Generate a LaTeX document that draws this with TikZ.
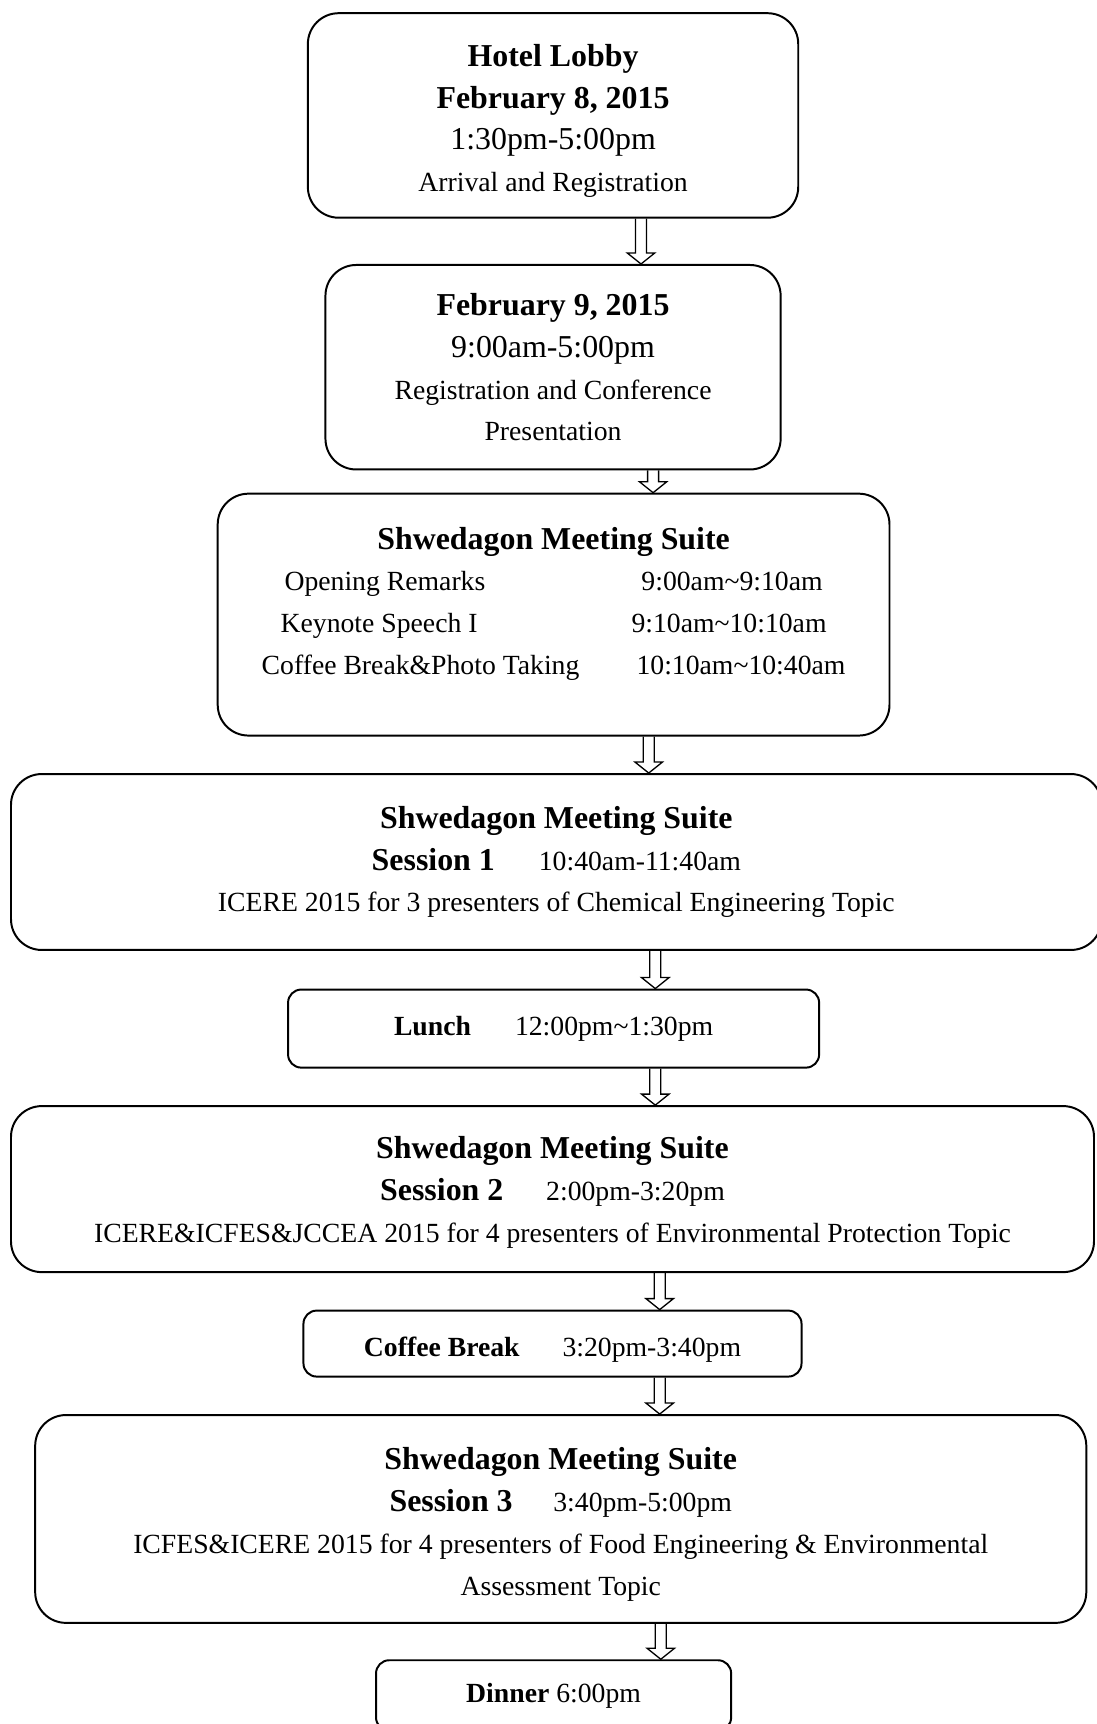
\documentclass[tikz,border=0pt]{standalone}
\usepackage{fontspec}
\setmainfont{Liberation Serif}
\usetikzlibrary{calc}
\newcommand\bigline[1]{{\fontsize{14.5}{19}\selectfont #1}}

\begin{document}
\begin{tikzpicture}[x=0.5pt, y=-0.5pt,
    box/.style={draw, line width=0.9pt, rounded corners=14pt, align=center,
      font=\fontsize{12.6}{19}\selectfont, inner sep=0pt},
    smallbox/.style={box, rounded corners=6pt},
    hollow/.style={line width=0.6pt, to path={let \p1=(\tikztostart), \p2=(\tikztotarget) in
      (\x1-2.5pt,\y1) -- (\x1-2.5pt,\y2+5pt) -- (\x1-6.25pt,\y2+5pt) -- (\x1,\y2)
      -- (\x1+6.25pt,\y2+5pt) -- (\x1+2.5pt,\y2+5pt) -- (\x1+2.5pt,\y1)}}]
  \useasboundingbox (0,0) rectangle (997,1568);

  \node[box, minimum width=223pt, minimum height=93pt] (lobby) at (503,105)
    {\rule{0pt}{15pt}\bigline{\textbf{Hotel Lobby}}\\ \bigline{\textbf{February 8, 2015}}\\
     \bigline{1:30pm-5:00pm}\\ Arrival and Registration};
  \node[box, minimum width=207pt, minimum height=93pt] (feb9) at (503,334)
    {\bigline{\textbf{February 9, 2015}}\\ \bigline{9:00am-5:00pm}\\
     Registration and Conference\\ Presentation};
  \node[box, minimum width=305.5pt, minimum height=110pt] (meet) at (503.5,559)
    {\bigline{\textbf{Shwedagon Meeting Suite}}\\
     Opening Remarks\hspace{71pt}9:00am\textasciitilde9:10am\\
     Keynote Speech I\hspace{70pt}9:10am\textasciitilde10:10am\\
     Coffee Break\&Photo Taking\hspace{26pt}10:10am\textasciitilde10:40am\\[-12pt]\strut};
  \node[box, minimum width=496pt, minimum height=80pt] (sessa) at (506,784)
    {\bigline{\textbf{Shwedagon Meeting Suite}}\\
     \bigline{\textbf{Session 1}}\hspace{20pt}10:40am-11:40am\\
     ICERE 2015 for 3 presenters of Chemical Engineering Topic};
  \node[smallbox, minimum width=241.5pt, minimum height=35.5pt] (lunch) at (503.5,935.5)
    {\textbf{Lunch}\hspace{20pt}12:00pm\textasciitilde1:30pm};
  \node[box, minimum width=492.5pt, minimum height=75.5pt] (sessb) at (502.5,1081.5)
    {\rule{0pt}{13pt}\bigline{\textbf{Shwedagon Meeting Suite}}\\
     \bigline{\textbf{Session 2}}\hspace{19.5pt}2:00pm-3:20pm\\
     ICERE\&ICFES\&JCCEA 2015 for 4 presenters of Environmental Protection Topic};
  \node[smallbox, minimum width=226.5pt, minimum height=30pt] (coffee) at (502.5,1222)
    {\rule{0pt}{14pt}\textbf{Coffee Break}\hspace{19.5pt}3:20pm-3:40pm};
  \node[box, minimum width=478pt, minimum height=94.5pt] (sessc) at (510,1381.5)
    {\rule{0pt}{15pt}\bigline{\textbf{Shwedagon Meeting Suite}}\\
     \bigline{\textbf{Session 3}}\hspace{18.5pt}3:40pm-5:00pm\\
     ICFES\&ICERE 2015 for 4 presenters of Food Engineering \& Environmental\\
     Assessment Topic};
  \node[smallbox, minimum width=161.5pt, minimum height=32pt] (dinner) at (503.5,1542)
    {\textbf{Dinner} 6:00pm};

  \draw[hollow] (lobby.south -| 583,0) to (feb9.north -| 583,0);
  \draw[hollow] (feb9.south -| 594,0) to (meet.north -| 594,0);
  \draw[hollow] (meet.south -| 590,0) to (sessa.north -| 590,0);
  \draw[hollow] (sessa.south -| 596,0) to (lunch.north -| 596,0);
  \draw[hollow] (lunch.south -| 596,0) to (sessb.north -| 596,0);
  \draw[hollow] (sessb.south -| 600,0) to (coffee.north -| 600,0);
  \draw[hollow] (coffee.south -| 600,0) to (sessc.north -| 600,0);
  \draw[hollow] (sessc.south -| 601,0) to (dinner.north -| 601,0);
\end{tikzpicture}
\end{document}
